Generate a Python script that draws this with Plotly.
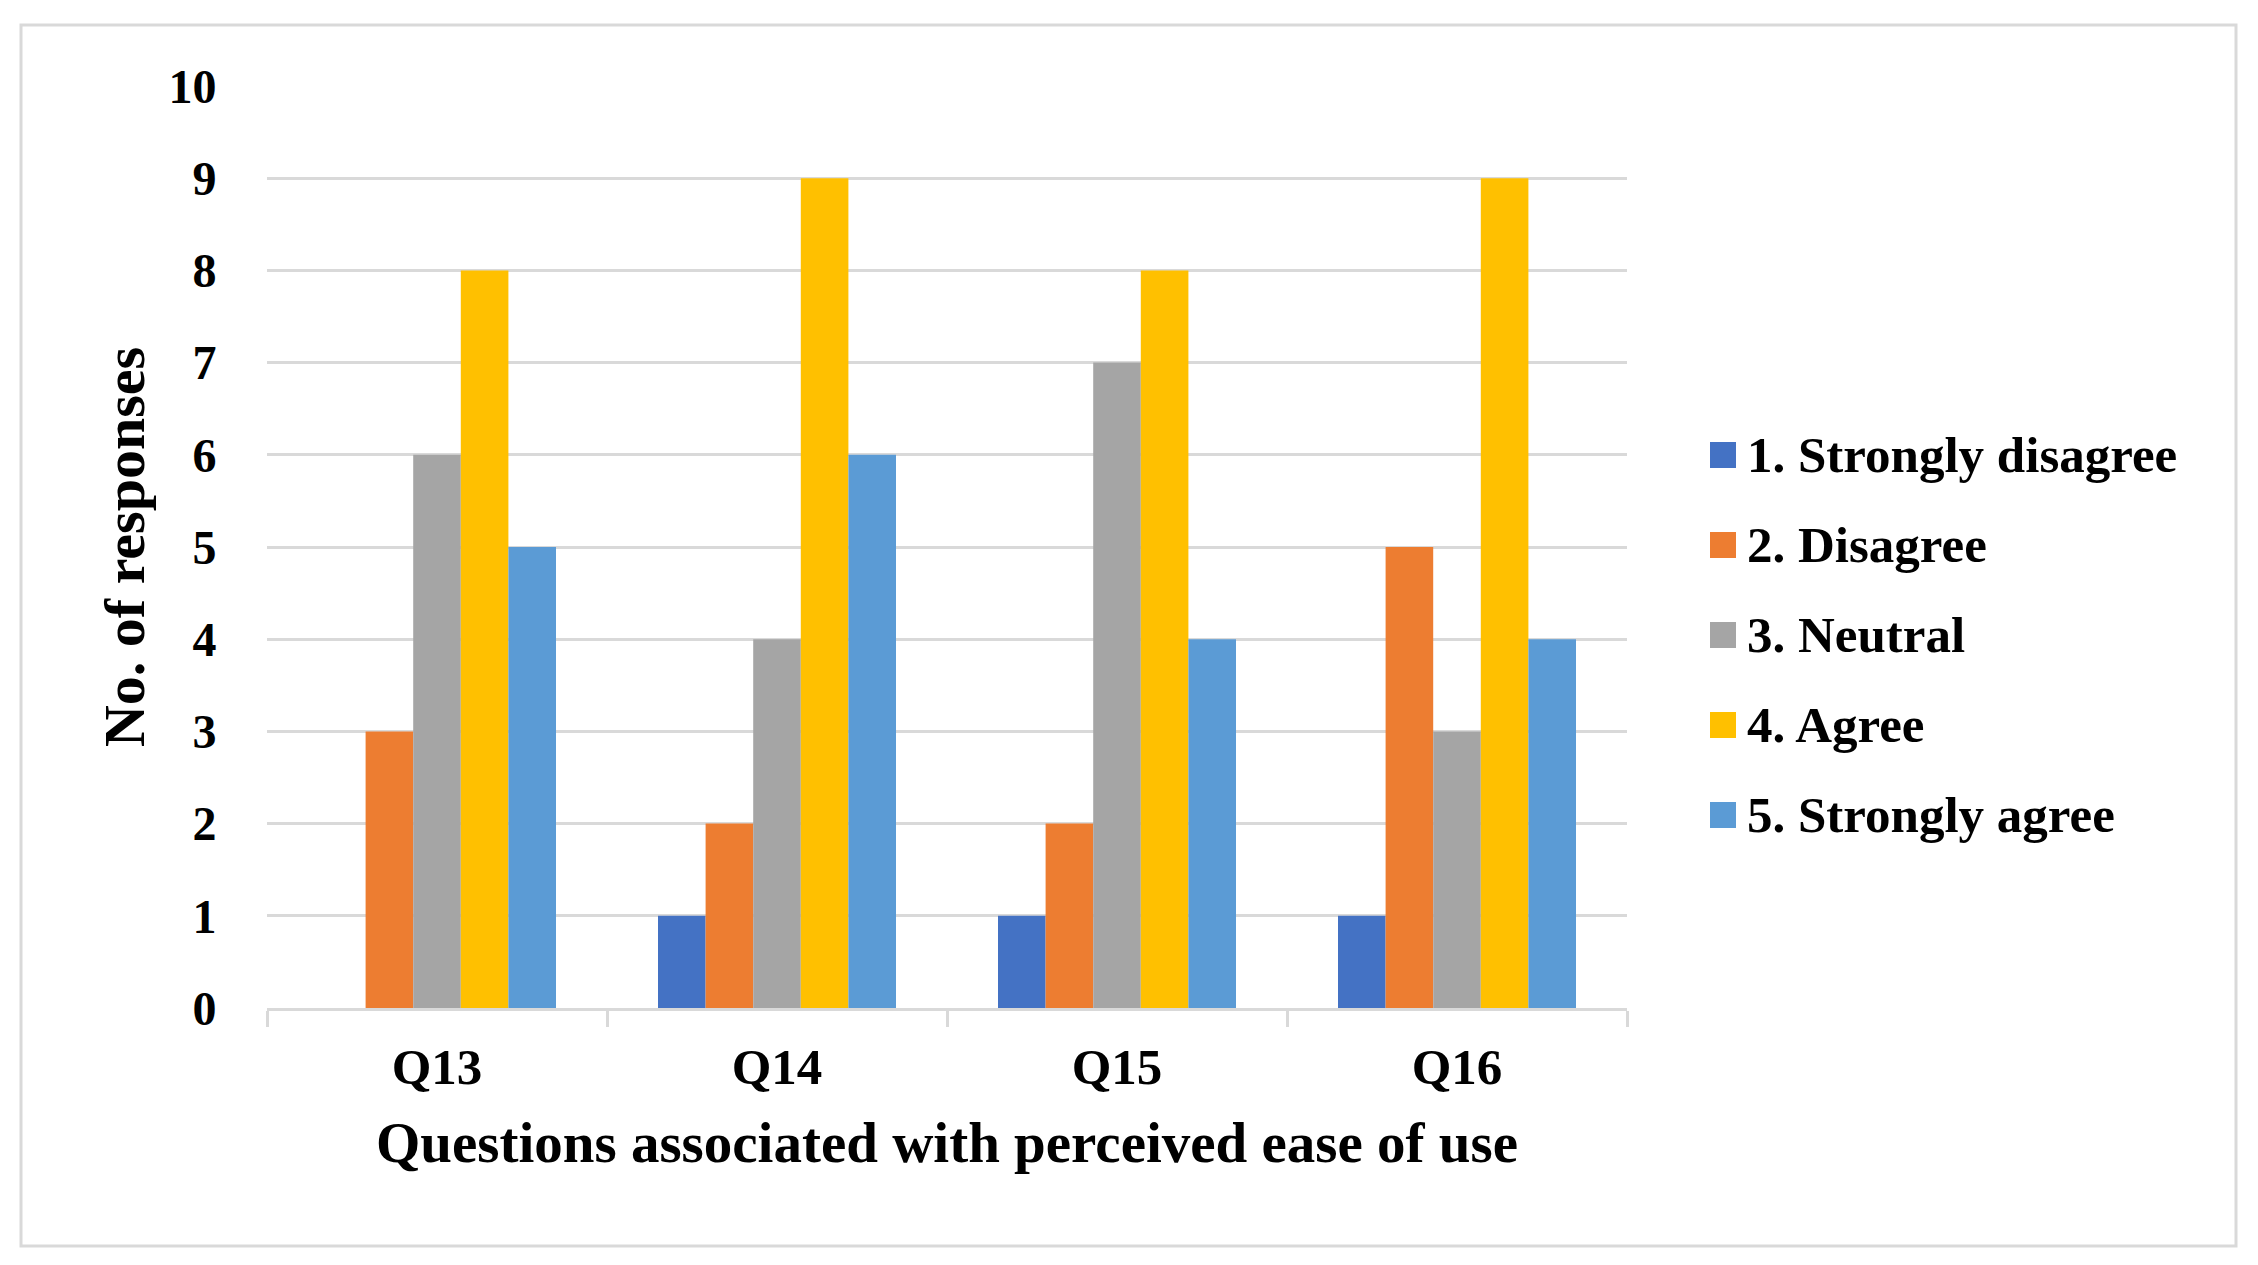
import plotly.graph_objects as go

categories = ["Q13", "Q14", "Q15", "Q16"]
series_names = ["1. Strongly disagree", "2. Disagree", "3. Neutral", "4. Agree", "5. Strongly agree"]
strongly_disagree = [0, 1, 1, 1]
disagree = [3, 2, 2, 5]
neutral = [6, 4, 7, 3]
agree = [8, 9, 8, 9]
strongly_agree = [5, 6, 4, 4]
series_values = [strongly_disagree, disagree, neutral, agree, strongly_agree]
colors = ["#4472C4", "#ED7D31", "#A5A5A5", "#FFC000", "#5B9BD5"]
y_ticks = list(range(0, 11))

OFF = 8  # page body margin
W, H = 2258 - 2 * OFF, 1265 - 2 * OFF
L = 267 - OFF
T = 86 - OFF
R = W - (1627 - OFF)
B = H - (1008 - OFF)
PW, PH = W - L - R, H - T - B
FONT = "Liberation Serif"
GRID = "#d9d9d9"

def px_x(x):
    return (x - OFF - L) / PW

def px_y(y):
    return (H - B - (y - OFF)) / PH

fig = go.Figure()
for name, vals, col in zip(series_names, series_values, colors):
    fig.add_trace(go.Bar(x=categories, y=vals, name=name, marker=dict(color=col, line=dict(width=0)),
                         showlegend=False))

shapes = []
annotations = []
leg_y = [455, 545, 635, 725, 815]
for name, col, yy in zip(series_names, colors, leg_y):
    shapes.append(dict(type="rect", xref="paper", yref="paper",
                       x0=px_x(1710), x1=px_x(1736), y0=px_y(yy + 13), y1=px_y(yy - 13),
                       fillcolor=col, line=dict(width=0)))
    annotations.append(dict(text="<b>" + name + "</b>", xref="paper", yref="paper",
                            x=px_x(1745), y=px_y(yy), xanchor="left", yanchor="middle",
                            showarrow=False, font=dict(family=FONT, size=51, color="black")))
shapes.append(dict(type="rect", xref="paper", yref="paper",
                   x0=px_x(21), x1=px_x(2236), y0=px_y(1246), y1=px_y(25),
                   line=dict(color=GRID, width=3), fillcolor="rgba(0,0,0,0)", layer="below"))

fig.update_layout(
    width=W, height=H,
    margin=dict(l=L, r=R, t=T, b=B, pad=0),
    paper_bgcolor="white", plot_bgcolor="white",
    barmode="group", bargap=0.30, bargroupgap=0,
    font=dict(family=FONT, color="black"),
    shapes=shapes, annotations=annotations,
    xaxis=dict(
        showline=True, linecolor=GRID, linewidth=3,
        ticks="outside", tickson="boundaries", ticklen=16, tickwidth=3, tickcolor=GRID,
        tickfont=dict(family=FONT, size=51, color="black"),
        ticklabelstandoff=12,
        tickprefix="<b>", ticksuffix="</b>",
        title=dict(text="<b>Questions associated with perceived ease of use</b>",
                   font=dict(family=FONT, size=57, color="black"), standoff=28),
        showgrid=False,
    ),
    yaxis=dict(
        range=[0, 10], tickvals=y_ticks, ticktext=["<b>%d</b>" % v for v in y_ticks],
        showgrid=True, gridcolor=GRID, gridwidth=3,
        zeroline=False, showline=False,
        ticks="outside", ticklen=40, tickcolor="rgba(0,0,0,0)",
        tickfont=dict(family=FONT, size=48, color="black"),
        title=dict(text="<b>No. of responses</b>",
                   font=dict(family=FONT, size=58, color="black"), standoff=5),
    ),
)

fig.write_html("out.html")
